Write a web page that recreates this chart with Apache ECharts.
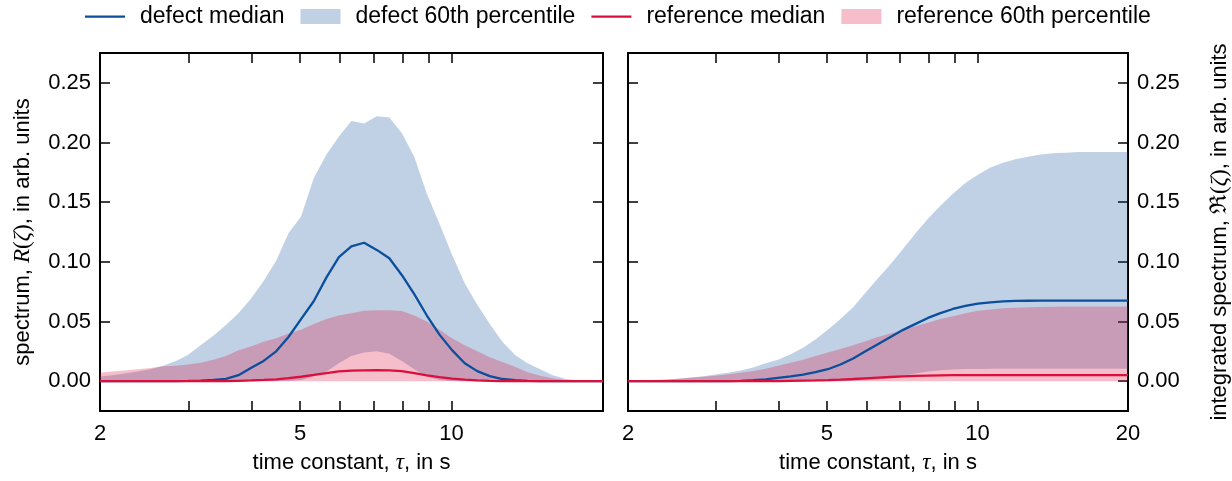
<!DOCTYPE html>
<html>
<head>
<meta charset="utf-8">
<script src="https://cdn.jsdelivr.net/npm/echarts@6/dist/echarts.min.js"></script>
<style>
  html, body { margin: 0; padding: 0; background: #fff; }
  #chart { width: 1232px; height: 481px; }
</style>
</head>
<body>
<div id="chart"></div>
<script>
// time constant grid (s)
var tau = [2.00, 2.12, 2.24, 2.38, 2.52, 2.67, 2.83, 2.99, 3.17, 3.36, 3.56, 3.77, 3.99, 4.23, 4.48, 4.74,
  5.02, 5.32, 5.64, 5.97, 6.32, 6.70, 7.10, 7.52, 7.96, 8.43, 8.93, 9.46, 10.02, 10.62, 11.25, 11.91,
  12.62, 13.37, 14.16, 15.00, 15.89, 16.83, 17.83, 18.88, 20.00];

// left panel: spectrum R
var defectMedL = [0, 0, 0, 0, 0, 0, 0, 0.0002, 0.0005, 0.001, 0.002, 0.005, 0.011, 0.017, 0.025, 0.037,
  0.052, 0.067, 0.087, 0.104, 0.113, 0.116, 0.110, 0.103, 0.089, 0.073, 0.055, 0.039, 0.026, 0.015, 0.0084, 0.0042,
  0.0018, 0.0008, 0.0003, 0, 0, 0, 0, 0, 0];
var defectLoL = [0, 0, 0, 0, 0, 0, 0, 0, 0, 0, 0, 0, 0, 0, 0, 0,
  0.001, 0.004, 0.008, 0.015, 0.021, 0.024, 0.025, 0.023, 0.017, 0.010, 0.004, 0.001, 0, 0, 0, 0,
  0, 0, 0, 0, 0, 0, 0, 0, 0];
var defectHiL = [0.004, 0.005, 0.0065, 0.008, 0.010, 0.013, 0.017, 0.022, 0.030, 0.038, 0.047, 0.057, 0.069, 0.084, 0.101, 0.124,
  0.138, 0.170, 0.190, 0.205, 0.218, 0.216, 0.222, 0.221, 0.208, 0.188, 0.157, 0.132, 0.106, 0.082, 0.064, 0.048,
  0.033, 0.022, 0.015, 0.010, 0.005, 0.002, 0.0005, 0, 0];
var refMedL = [0, 0, 0, 0, 0, 0, 0, 0, 0, 0, 0, 0.0003, 0.0006, 0.001, 0.0015, 0.0025,
  0.0037, 0.0052, 0.0068, 0.0082, 0.0089, 0.0091, 0.0092, 0.0091, 0.0085, 0.0068, 0.0048, 0.0034, 0.0022, 0.0013, 0.0007, 0.0003,
  0, 0, 0, 0, 0, 0, 0, 0, 0];
var refLoL = [0, 0, 0, 0, 0, 0, 0, 0, 0, 0, 0, 0, 0, 0, 0, 0,
  0, 0, 0, 0, 0, 0, 0, 0, 0, 0, 0, 0, 0, 0, 0, 0,
  0, 0, 0, 0, 0, 0, 0, 0, 0];
var refHiL = [0.007, 0.008, 0.009, 0.010, 0.011, 0.0125, 0.013, 0.014, 0.0155, 0.018, 0.021, 0.026, 0.029, 0.033, 0.036, 0.040,
  0.043, 0.048, 0.052, 0.055, 0.057, 0.059, 0.0595, 0.0595, 0.0588, 0.055, 0.050, 0.043, 0.036, 0.030, 0.025, 0.020,
  0.016, 0.012, 0.0075, 0.0045, 0.0025, 0.001, 0.0003, 0, 0];

// right panel: integrated spectrum
var defectMedR = [0, 0, 0, 0, 0, 0, 0, 0, 0, 0.0003, 0.0008, 0.0015, 0.0028, 0.004, 0.0054, 0.0075,
  0.010, 0.014, 0.019, 0.025, 0.031, 0.037, 0.043, 0.048, 0.053, 0.057, 0.0605, 0.063, 0.065, 0.066, 0.0668, 0.0672,
  0.0674, 0.0675, 0.0675, 0.0675, 0.0675, 0.0675, 0.0675, 0.0675, 0.0675];
var defectLoR = [0, 0, 0, 0, 0, 0, 0, 0, 0, 0, 0, 0, 0, 0, 0, 0,
  0, 0, 0.0003, 0.0008, 0.0015, 0.0028, 0.0045, 0.0065, 0.0082, 0.0092, 0.0098, 0.0101, 0.0103, 0.0104, 0.0104, 0.0104,
  0.0104, 0.0104, 0.0104, 0.0104, 0.0104, 0.0104, 0.0104, 0.0104, 0.0104];
var defectHiR = [0, 0.0003, 0.0007, 0.0012, 0.002, 0.003, 0.0042, 0.0055, 0.007, 0.009, 0.0115, 0.015, 0.018, 0.0225, 0.028, 0.035,
  0.043, 0.052, 0.062, 0.074, 0.086, 0.098, 0.111, 0.124, 0.136, 0.147, 0.157, 0.166, 0.173, 0.179, 0.183, 0.186,
  0.188, 0.190, 0.191, 0.1915, 0.192, 0.192, 0.192, 0.192, 0.192];
var refMedR = [0, 0, 0, 0, 0, 0, 0, 0, 0, 0, 0, 0, 0, 0.0002, 0.0004, 0.0006,
  0.0009, 0.0013, 0.0018, 0.0024, 0.003, 0.0035, 0.004, 0.0044, 0.0047, 0.0049, 0.005, 0.005, 0.005, 0.005, 0.005, 0.005,
  0.005, 0.005, 0.005, 0.005, 0.005, 0.005, 0.005, 0.005, 0.005];
var refLoR = [0, 0, 0, 0, 0, 0, 0, 0, 0, 0, 0, 0, 0, 0, 0, 0,
  0, 0, 0, 0, 0, 0, 0, 0, 0, 0, 0, 0, 0, 0, 0, 0,
  0, 0, 0, 0, 0, 0, 0, 0, 0];
var refHiR = [0, 0.0005, 0.001, 0.0015, 0.002, 0.0028, 0.0036, 0.0046, 0.0057, 0.007, 0.0085, 0.0105, 0.013, 0.0155, 0.018, 0.021,
  0.024, 0.027, 0.030, 0.0335, 0.037, 0.040, 0.043, 0.046, 0.049, 0.052, 0.0545, 0.057, 0.059, 0.060, 0.061, 0.0615,
  0.062, 0.0622, 0.0624, 0.0625, 0.0625, 0.0625, 0.0625, 0.0625, 0.0625];

var xTicks = [2, 3, 4, 5, 6, 7, 8, 9, 10, 20];
var xLabelsL = [2, 5, 10];
var xLabelsR = [2, 5, 10, 20];
var yTicks = [0, 0.05, 0.10, 0.15, 0.20, 0.25];

var BLUE = '#0b4f9c';
var RED = '#dc0f3c';
var BLUE_FILL = 'rgba(11,79,156,0.26)';
var RED_FILL = 'rgba(220,15,60,0.27)';
var FONT = '"Liberation Sans", Arial, sans-serif';
var MATH = { fontFamily: '"Liberation Serif", "DejaVu Serif", serif', fontStyle: 'italic', fontSize: 23, color: '#000' };
var PAREN = { fontFamily: '"Liberation Serif", "DejaVu Serif", serif', fontSize: 23, color: '#000' };
// thin horizontal bar inside a 40x15 box, used as legend icon for the median lines
var LINE_ICON = 'path://M0,6.4h40v2.4h-40z M0,0h0.01v0.01h-0.01z M39.99,14.99h0.01v0.01h-0.01z';

function pts(ys) {
  return tau.map(function (t, i) { return [t, ys[i]]; });
}

function xAxis(grid, pos, labels, name) {
  return {
    type: 'log', gridIndex: grid, position: pos, min: 2, max: 20, logBase: 10,
    name: name || '', nameLocation: 'middle', nameGap: 40,
    nameTextStyle: { fontFamily: FONT, fontSize: 22, color: '#000', rich: { m: MATH } },
    axisLine: { show: true, onZero: false, lineStyle: { color: '#000', width: 2 } },
    axisTick: { show: true, inside: true, length: 10, customValues: xTicks, lineStyle: { color: '#000', width: 1.5 } },
    minorTick: { show: false },
    axisLabel: labels ? { show: true, customValues: labels, margin: 12, fontFamily: FONT, fontSize: 22, color: '#000',
      formatter: function (v) { return String(Math.round(v)); } } : { show: false },
    splitLine: { show: false }
  };
}
function yAxis(grid, pos, labels, name, gap) {
  return {
    type: 'value', gridIndex: grid, position: pos, min: -0.025, max: 0.275,
    name: name || '', nameLocation: 'middle', nameGap: gap || 0, nameRotate: 90,
    nameTextStyle: { fontFamily: FONT, fontSize: 22, color: '#000', rich: { m: MATH, p: PAREN } },
    axisLine: { show: true, onZero: false, lineStyle: { color: '#000', width: 2 } },
    axisTick: { show: true, inside: true, length: 10, customValues: yTicks, lineStyle: { color: '#000', width: 1.5 } },
    axisLabel: labels ? { show: true, customValues: yTicks, margin: 9, fontFamily: FONT, fontSize: 22, color: '#000',
      formatter: function (v) { return v.toFixed(2); } } : { show: false },
    splitLine: { show: false }
  };
}

// filled band between lo and hi, drawn as one polygon through the axes' scales
function bandSeries(name, xi, yi, lo, hi, fill) {
  return {
    name: name, type: 'custom', coordinateSystem: 'cartesian2d', xAxisIndex: xi, yAxisIndex: yi,
    data: pts(hi), encode: { x: 0, y: 1 }, silent: true, clip: true,
    itemStyle: { color: fill },
    renderItem: function (params, api) {
      if (params.dataIndex !== 0) return null;
      var poly = [];
      for (var i = 0; i < tau.length; i++) poly.push(api.coord([tau[i], hi[i]]));
      for (var j = tau.length - 1; j >= 0; j--) poly.push(api.coord([tau[j], lo[j]]));
      return { type: 'polygon', shape: { points: poly }, style: { fill: fill } };
    }
  };
}
function lineSeries(name, xi, yi, ys, color) {
  return {
    name: name, type: 'line', xAxisIndex: xi, yAxisIndex: yi, data: pts(ys),
    symbol: 'none', silent: true, color: color, lineStyle: { color: color, width: 2.3 }
  };
}

var series = [
  bandSeries('defect 60th percentile', 0, 0, defectLoL, defectHiL, BLUE_FILL),
  bandSeries('reference 60th percentile', 0, 0, refLoL, refHiL, RED_FILL),
  lineSeries('defect median', 0, 0, defectMedL, BLUE),
  lineSeries('reference median', 0, 0, refMedL, RED),
  bandSeries('defect 60th percentile', 2, 3, defectLoR, defectHiR, BLUE_FILL),
  bandSeries('reference 60th percentile', 2, 3, refLoR, refHiR, RED_FILL),
  lineSeries('defect median', 2, 3, defectMedR, BLUE),
  lineSeries('reference median', 2, 3, refMedR, RED)
];

var chart = echarts.init(document.getElementById('chart'), null, { renderer: 'canvas' });
chart.setOption({
  animation: false,
  backgroundColor: '#fff',
  legend: {
    top: 0, left: 80, itemWidth: 40, itemHeight: 15, itemGap: 16,
    textStyle: { fontFamily: FONT, fontSize: 23, color: '#000', padding: [0, 0, 0, 10] },
    itemStyle: { borderWidth: 0 },
    data: [
      { name: 'defect median', icon: LINE_ICON, itemStyle: { color: BLUE } },
      { name: 'defect 60th percentile', icon: 'rect', itemStyle: { color: BLUE_FILL } },
      { name: 'reference median', icon: LINE_ICON, itemStyle: { color: RED } },
      { name: 'reference 60th percentile', icon: 'rect', itemStyle: { color: RED_FILL } }
    ],
    selectedMode: false
  },
  grid: [
    { left: 100, top: 53, width: 503, height: 358, show: false },
    { left: 628, top: 53, width: 502, height: 358, show: false }
  ],
  xAxis: [
    xAxis(0, 'bottom', xLabelsL, 'time constant, {m|τ}, in s'),
    xAxis(0, 'top', null),
    xAxis(1, 'bottom', xLabelsR, 'time constant, {m|τ}, in s'),
    xAxis(1, 'top', null)
  ],
  yAxis: [
    yAxis(0, 'left', true, 'spectrum, {m|R}{p|(}{m|ζ}{p|)}, in arb. units', 66),
    yAxis(0, 'right', false),
    yAxis(1, 'left', false),
    yAxis(1, 'right', true, 'integrated spectrum, {p|ℜ(}{m|ζ}{p|)}, in arb. units', 80)
  ],
  series: series
});
</script>
</body>
</html>
